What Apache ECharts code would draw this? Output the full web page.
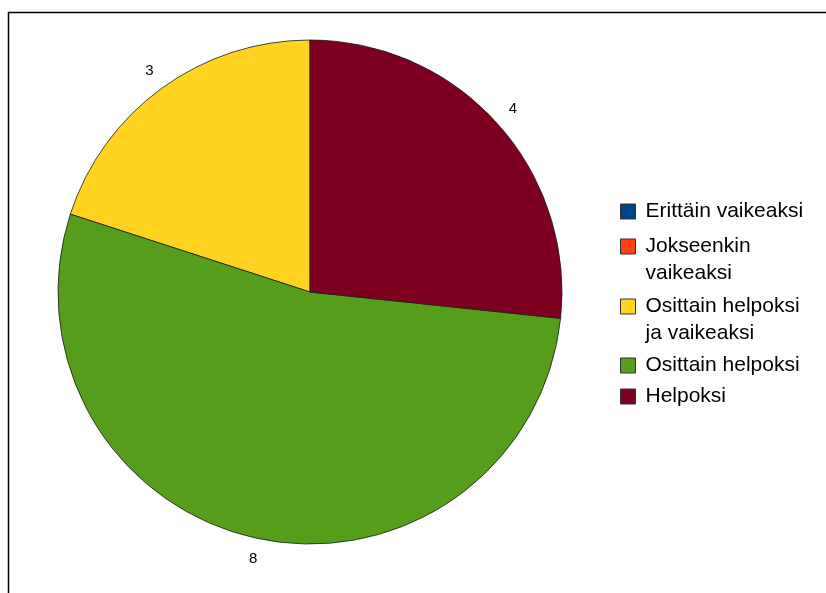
<!DOCTYPE html>
<html>
<head>
<meta charset="utf-8">
<script src="https://cdn.jsdelivr.net/npm/echarts@6/dist/echarts.min.js"></script>
<style>
html,body{margin:0;padding:0;background:#fff;}
#chart{width:826px;height:593px;}
</style>
</head>
<body>
<div id="chart"></div>
<script>
// Data
const categories = ['Erittäin vaikeaksi', 'Jokseenkin vaikeaksi', 'Osittain helpoksi ja vaikeaksi', 'Osittain helpoksi', 'Helpoksi'];
const values = [0, 0, 3, 8, 4];
const legendLines = [['Erittäin vaikeaksi'], ['Jokseenkin', 'vaikeaksi'], ['Osittain helpoksi', 'ja vaikeaksi'], ['Osittain helpoksi'], ['Helpoksi']];

// Style / layout
const colors = ['#004586', '#ff420e', '#ffd320', '#579d1c', '#7e0021'];
const legendTops = [201, 209, 269, 355, 386];
const FONT = '"Liberation Sans", Arial, sans-serif';

const pieData = categories.map((c, i) => ({ name: c, value: values[i], itemStyle: { color: colors[i] } }));
const ghostData = categories.map((c, i) => ({ name: c, value: values[i] }));

const legends = categories.map((c, i) => ({
  orient: 'vertical',
  left: 620,
  top: legendTops[i],
  padding: 0,
  itemWidth: 15,
  itemHeight: 15,
  data: [c],
  icon: 'rect',
  selectedMode: false,
  itemStyle: { borderColor: '#333', borderWidth: 1 },
  formatter: function (name) {
    const lines = legendLines[categories.indexOf(name)];
    if (lines.length === 1) return '{n|' + lines[0] + '}';
    return '{f|' + lines[0] + '}\n{n|' + lines[1] + '}';
  },
  textStyle: {
    fontFamily: FONT, fontSize: 21, color: '#000',
    rich: {
      n: { fontFamily: FONT, fontSize: 21, color: '#000', lineHeight: 27, padding: [0, 0, 0, 5] },
      f: { fontFamily: FONT, fontSize: 21, color: '#000', lineHeight: 54, padding: [27, 0, 0, 5] }
    }
  }
}));

const chart = echarts.init(document.getElementById('chart'), null, { renderer: 'canvas' });
chart.setOption({
  animation: false,
  backgroundColor: '#fff',
  graphic: [{
    type: 'rect', silent: true, z: -10,
    shape: { x: 8.5, y: 12.5, width: 1000, height: 1000 },
    style: { fill: 'none', stroke: '#000', lineWidth: 1.5 }
  }],
  legend: legends,
  series: [{
    type: 'pie',
    center: [310, 292],
    radius: [0, 252],
    startAngle: 90,
    clockwise: false,
    silent: true,
    data: pieData,
    label: { show: false },
    labelLine: { show: false },
    itemStyle: { borderColor: '#1a1a1a', borderWidth: 0.8 },
    emphasis: { disabled: true }
  }, {
    type: 'pie',
    center: [310, 292],
    radius: [258, 282],
    startAngle: 90,
    clockwise: false,
    silent: true,
    legendHoverLink: false,
    data: ghostData,
    itemStyle: { color: 'rgba(0,0,0,0)', borderWidth: 0 },
    label: {
      show: true, position: 'inside',
      fontFamily: FONT, fontSize: 15, color: '#000',
      formatter: p => (p.value ? String(p.value) : '')
    },
    labelLine: { show: false },
    emphasis: { disabled: true }
  }]
});
</script>
</body>
</html>
